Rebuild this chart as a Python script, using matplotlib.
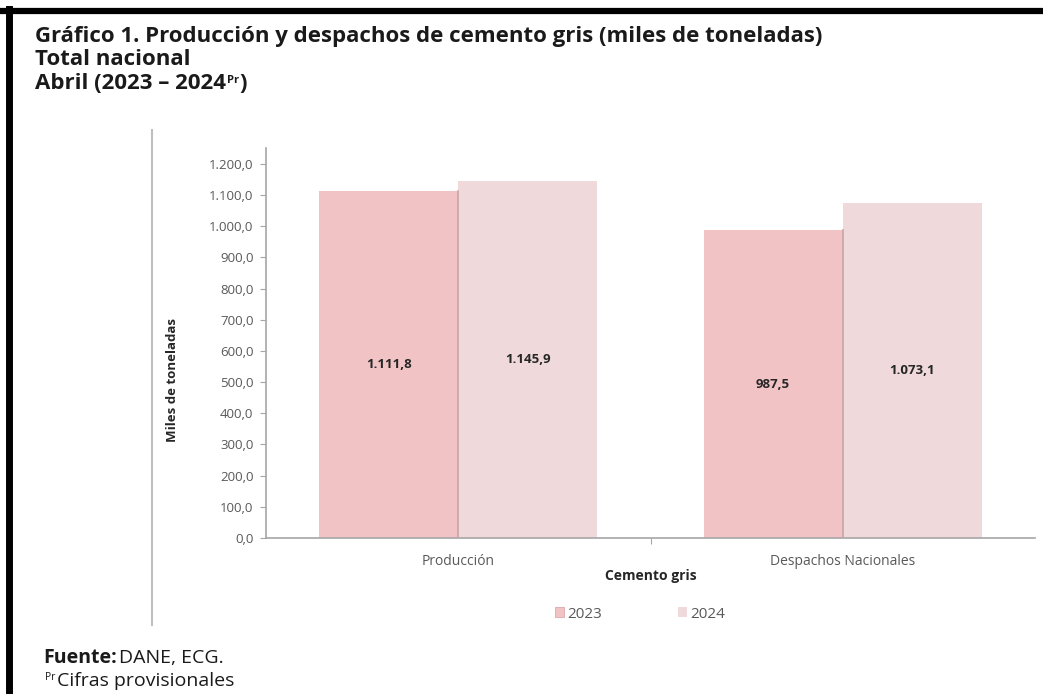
import matplotlib.pyplot as plt
import numpy as np
from matplotlib.patches import Patch
from matplotlib.lines import Line2D

# datos: producción y despachos de cemento gris, abril (miles de toneladas)
categorias = ["Producción", "Despachos Nacionales"]
anios = ["2023", "2024"]
valores_2023 = [1111.8, 987.5]
valores_2024 = [1145.9, 1073.1]
ticks_y = [0, 100, 200, 300, 400, 500, 600, 700, 800, 900, 1000, 1100, 1200]

color_2023 = "#F2C3C5"
color_2024 = "#EFD9DA"
gris = "#595959"
negro = "#1A1A1A"
W, H = 1043, 694


def fmt_es(v):
    # 1234.5 -> 1.234,5
    s = f"{v:,.1f}"
    return s.replace(",", "X").replace(".", ",").replace("X", ".")


plt.rcParams["font.family"] = ["Open Sans", "DejaVu Sans"]

fig = plt.figure(figsize=(W / 100, H / 100), dpi=100)
ax = fig.add_axes([266 / W, 156 / H, 769 / W, 390 / H])

x = np.arange(len(categorias))
w = 0.362
b1 = ax.bar(x - w / 2, valores_2023, width=w, color=color_2023, zorder=2)
b2 = ax.bar(x + w / 2, valores_2024, width=w, color=color_2024, zorder=2)

# sombra fina a la derecha de las barras 2023
for r in b1:
    ax.plot([r.get_x() + r.get_width()] * 2, [0, r.get_height()],
            color="#C9A3A5", lw=1.2, zorder=3)

for bars, vals in ((b1, valores_2023), (b2, valores_2024)):
    for r, v in zip(bars, vals):
        ax.text(r.get_x() + r.get_width() / 2, v / 2, fmt_es(v),
                ha="center", va="center", fontsize=9.5, fontweight="bold",
                color="#262626", zorder=4)

ax.set_xlim(-0.5, 1.5)
ax.set_ylim(0, 1251)
ax.set_yticks(ticks_y)
ax.set_yticklabels([fmt_es(t) for t in ticks_y], fontsize=9.5, color=gris)
ax.set_xticks([0.5])
ax.set_xticklabels([""])
ax.tick_params(axis="y", length=4, color="#A6A6A6", pad=5)
ax.tick_params(axis="x", length=4, color="#A6A6A6", direction="out")
for s in ("top", "right"):
    ax.spines[s].set_visible(False)
for s in ("left", "bottom"):
    ax.spines[s].set_color("#A6A6A6")
    ax.spines[s].set_linewidth(1.2)

for xi, c in zip(x, categorias):
    ax.text(xi, -0.06, c, transform=ax.get_xaxis_transform(), ha="center",
            va="center", fontsize=10, color=gris)
ax.text(0.5, -0.097, "Cemento gris", transform=ax.get_xaxis_transform(),
        ha="center", va="center", fontsize=10, fontweight="bold", color="#262626")

fig.text(172 / W, 1 - 380 / H, "Miles de toneladas", rotation=90,
         ha="center", va="center", fontsize=9.5, fontweight="bold", color="#262626")

handles = [Patch(facecolor=color_2023, edgecolor="#D9A9AC", lw=0.6),
           Patch(facecolor=color_2024, edgecolor="none")]
fig.legend(handles, anios, loc="center", bbox_to_anchor=(640 / W, 1 - 614 / H),
           ncol=2, frameon=False, fontsize=11, handlelength=0.6, handleheight=0.6,
           columnspacing=5.0, handletextpad=0.2, labelcolor=gris)

# títulos
renderer = fig.canvas.get_renderer()
tit = dict(ha="left", va="baseline", fontsize=16, fontweight="bold", color=negro)
fig.text(35 / W, 1 - 42 / H,
         "Gráfico 1. Producción y despachos de cemento gris (miles de toneladas)", **tit)
fig.text(35 / W, 1 - 65 / H, "Total nacional", **tit)
t3 = fig.text(35 / W, 1 - 89 / H, "Abril (2023 – 2024", **tit)
x_fin = t3.get_window_extent(renderer).x1
sup = fig.text(x_fin / W + 1 / W, 1 - 83 / H, "Pr", ha="left", va="baseline",
               fontsize=8, fontweight="bold", color=negro)
x_fin = sup.get_window_extent(renderer).x1
fig.text(x_fin / W, 1 - 89 / H, ")", **tit)

# pie
fig.text(43 / W, 1 - 663 / H, "Fuente:", ha="left", va="baseline",
         fontsize=14, fontweight="bold", color=negro)
fig.text(119 / W, 1 - 663 / H, "DANE, ECG.", ha="left", va="baseline",
         fontsize=14, color=negro)
fig.text(45 / W, 1 - 680 / H, "Pr", ha="left", va="baseline",
         fontsize=7.5, color=negro)
fig.text(57 / W, 1 - 686 / H, "Cifras provisionales", ha="left", va="baseline",
         fontsize=14, color=negro)

# marco y línea decorativa
fig.add_artist(Line2D([0, 1], [1 - 10.5 / H] * 2, color="black", lw=4.5))
fig.add_artist(Line2D([8.5 / W] * 2, [0, 1 - 8.5 / H], color="black", lw=5))
fig.add_artist(Line2D([152 / W] * 2, [1 - 130 / H, 1 - 625 / H],
                      color="#BFBFBF", lw=1.5))

fig.savefig("out.png", dpi=100)
